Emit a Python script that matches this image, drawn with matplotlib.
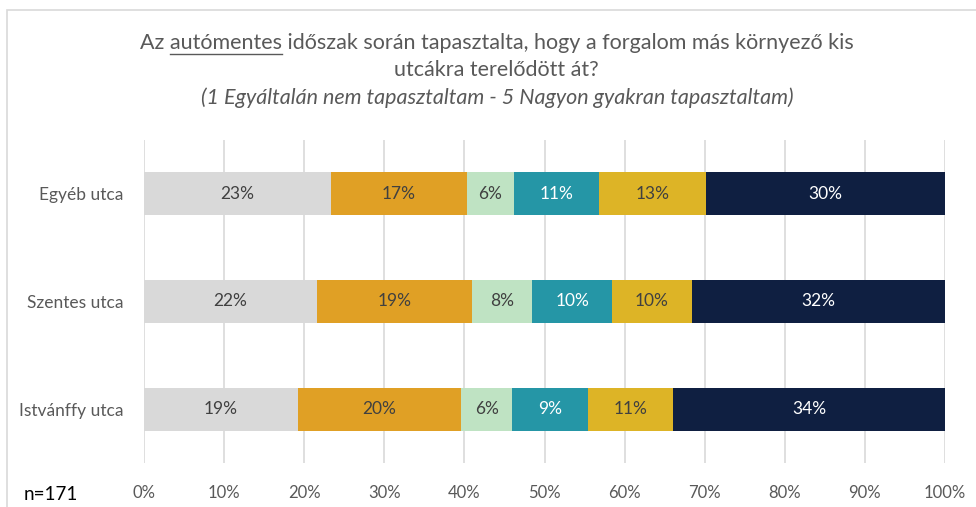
import numpy as np
import matplotlib
matplotlib.use("Agg")
import matplotlib.pyplot as plt
from matplotlib.patches import Rectangle
from matplotlib.lines import Line2D

plt.rcParams['font.family'] = ['Lato', 'DejaVu Sans']

# data (shares in %)
streets = ["Egyéb utca", "Szentes utca", "Istvánffy utca"]
series = ["1", "2", "3", "4", "5", "6"]
egyeb = [23.3, 17.0, 5.9, 10.6, 13.4, 29.8]
szentes = [21.6, 19.3, 7.6, 9.9, 10.0, 31.6]
istvanffy = [19.2, 20.4, 6.4, 9.4, 10.7, 33.9]
colors = ["#D9D9D9", "#E0A025", "#BFE3C3", "#2596A6", "#DDB426", "#0F1F41"]
label_colors = ["#404040", "#404040", "#404040", "white", "#404040", "white"]

values = np.array([egyeb, szentes, istvanffy])

fig = plt.figure(figsize=(9.76, 5.07), dpi=100)
ax = fig.add_axes([144 / 976, 1 - 463 / 507, (945 - 144) / 976, (463 - 140) / 507])

y = np.arange(len(streets))
left = np.zeros(len(streets))
for j in range(len(series)):
    bars = ax.barh(y, values[:, j], left=left, height=0.4, color=colors[j], zorder=3)
    for i, b in enumerate(bars):
        ax.text(left[i] + values[i, j] / 2, y[i], f"{values[i, j]:.0f}%",
                ha='center', va='center', fontsize=12.5, color=label_colors[j], zorder=4)
    left += values[:, j]

ax.set_xlim(0, 100)
ax.set_ylim(2.5, -0.5)
ax.set_yticks(y)
ax.set_yticklabels(streets, fontsize=12.5, color="#595959")
ax.set_xticks(np.arange(0, 101, 10))
ax.set_xticklabels([f"{v}%" for v in range(0, 101, 10)], fontsize=12, color="#595959")
ax.tick_params(axis='both', length=0)
ax.tick_params(axis='x', pad=16)
ax.tick_params(axis='y', pad=15)
ax.grid(axis='x', color="#D9D9D9", linewidth=1.2, zorder=0)
for s in ax.spines.values():
    s.set_visible(False)

# chart frame
fig.add_artist(Rectangle((7 / 976, -0.01), 1.2, 1 - 10 / 507 + 0.01, transform=fig.transFigure,
                         fill=False, edgecolor="#D9D9D9", linewidth=1.2))

# title
title_color = "#595959"
tsize = 15.5
xc = 0.509
line1 = "Az autómentes időszak során tapasztalta, hogy a forgalom más környező kis"
t1 = fig.text(xc, 1 - 43 / 507, line1, ha='center', va='center', fontsize=tsize, color=title_color)
fig.text(xc, 1 - 70 / 507, "utcákra terelődött át?", ha='center', va='center', fontsize=tsize, color=title_color)
fig.text(xc, 1 - 98 / 507, "(1 Egyáltalán nem tapasztaltam - 5 Nagyon gyakran tapasztaltam)",
         ha='center', va='center', fontsize=tsize, color=title_color, style='italic')

# underline "autómentes"
renderer = fig.canvas.get_renderer()
full = t1.get_window_extent(renderer)
tmp = fig.text(0, 0, "Az ", fontsize=tsize)
w_pre = tmp.get_window_extent(renderer).width
tmp.set_text("Az autómentes")
w_word = tmp.get_window_extent(renderer).width
tmp.remove()
x0 = (full.x0 + w_pre) / fig.bbox.width
x1 = (full.x0 + w_word) / fig.bbox.width
yu = (full.y0 - 1) / fig.bbox.height
fig.add_artist(Line2D([x0, x1], [yu, yu], transform=fig.transFigure, color=title_color, linewidth=1))

fig.text(24 / 976, 1 - 494 / 507, "n=171", ha='left', va='center', fontsize=13.5, color="black")

fig.savefig("out.png", dpi=100)
